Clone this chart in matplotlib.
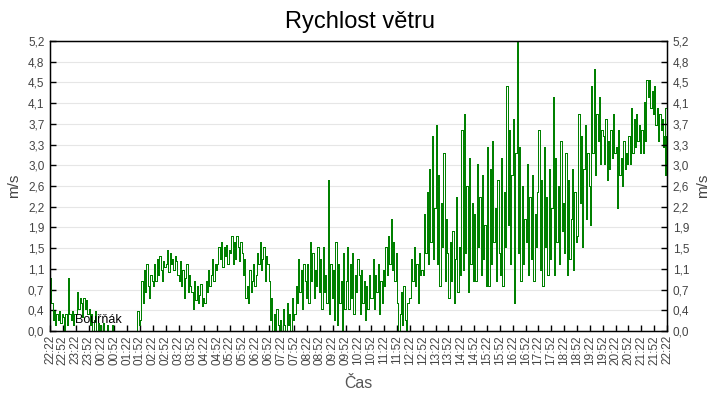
import numpy as np
import matplotlib
matplotlib.use("Agg")
import matplotlib.pyplot as plt

plt.rcParams['font.family'] = ['Liberation Sans', 'DejaVu Sans']

title = "Rychlost větru"
y_label = "m/s"
x_label = "Čas"
annotation = "Bouřňák"

# 3-minute samples of wind speed (m/s), starting 22:22
speed = [
    0.95, 0.5, 0.2, 0.35, 0.1, 0.3, 0.2, 0.35, 0.15, 0.3,
    0.25, 0.0, 0.3, 0.1, 0.95, 0.3, 0.2, 0.35, 0.1, 0.3,
    0.3, 0.7, 0.4, 0.6, 0.5, 0.25, 0.6, 0.4, 0.55, 0.3,
    0.4, 0.1, 0.3, 0.0, 0.2, 0.35, 0.0, 0.15, 0.0, 0.1,
    0.0, 0.15, 0.0, 0.0, 0.1, 0.0, 0.0, 0.0, 0.1, 0.0,
    0.0, 0.0, 0.0, 0.0, 0.0, 0.0, 0.0, 0.0, 0.0, 0.0,
    0.0, 0.0, 0.0, 0.0, 0.0, 0.0, 0.0, 0.0, 0.35, 0.1,
    0.2, 0.9, 0.5, 1.1, 0.7, 1.2, 0.8, 0.6, 1.0, 0.9,
    0.8, 1.2, 0.9, 1.3, 1.0, 1.35, 1.1, 0.9, 1.25, 1.15,
    1.2, 1.45, 1.05, 1.4, 1.2, 1.3, 1.1, 1.35, 1.25, 1.0,
    0.9, 1.25, 0.8, 1.1, 0.6, 0.95, 1.2, 0.7, 1.0, 0.8,
    0.7, 0.4, 0.9, 0.55, 0.8, 0.5, 0.65, 0.85, 0.45, 0.6,
    0.5, 0.9, 0.7, 1.1, 0.8, 1.0, 1.3, 0.9, 1.2, 1.1,
    1.2, 1.5, 1.3, 1.6, 1.15, 1.5, 1.35, 1.55, 1.2, 1.45,
    1.4, 1.7, 1.2, 1.6, 1.3, 1.7, 1.5, 1.25, 1.6, 1.4,
    1.0, 1.3, 0.6, 0.8, 0.5, 1.1, 0.7, 0.9, 1.2, 0.8,
    1.0, 1.4, 1.2, 1.6, 1.1, 1.3, 1.5, 0.9, 1.35, 1.2,
    0.9, 0.2, 0.6, 0.0, 0.3, 0.0, 0.4, 0.1, 0.0, 0.2,
    0.0, 0.4, 0.1, 0.0, 0.5, 0.1, 0.3, 0.0, 0.6, 0.2,
    0.3, 0.8, 0.5, 1.3, 0.7, 1.1, 0.4, 1.2, 0.9, 0.6,
    1.2, 0.5, 1.6, 0.9, 1.4, 0.6, 1.1, 0.8, 1.5, 0.7,
    1.3, 0.4, 1.5, 0.7, 1.0, 0.5, 2.7, 0.3, 1.2, 0.6,
    1.1, 0.2, 1.6, 0.1, 1.2, 0.5, 0.9, 0.0, 1.4, 0.4,
    0.9, 1.5, 0.4, 1.2, 0.6, 1.4, 0.3, 1.0, 0.7, 1.3,
    1.0, 0.3, 1.1, 0.5, 0.9, 0.2, 0.8, 0.4, 1.0, 0.6,
    0.6, 1.3, 0.4, 1.0, 0.7, 1.2, 0.3, 0.9, 0.5, 1.1,
    0.8, 1.5, 1.0, 1.7, 1.2, 2.0, 1.1, 1.6, 0.9, 1.4,
    0.5, 0.0, 0.3, 0.7, 0.1, 0.8, 0.2, 0.0, 0.5, 0.6,
    0.6, 1.3, 0.9, 1.5, 0.8, 1.2, 0.5, 1.4, 1.0, 1.1,
    1.0, 2.1, 1.4, 2.5, 1.2, 2.9, 1.6, 3.5, 1.3, 2.2,
    3.7, 1.2, 2.8, 0.8, 2.3, 1.5, 3.2, 0.9, 2.0, 1.4,
    0.6, 1.6, 0.9, 1.8, 0.5, 1.3, 2.4, 0.7, 1.5, 1.0,
    3.6, 1.1, 3.9, 1.4, 2.6, 0.7, 3.1, 1.2, 2.3, 0.9,
    2.1, 0.9, 3.0, 1.5, 2.4, 1.0, 2.8, 1.3, 1.9, 0.8,
    3.3, 0.8, 2.9, 1.2, 3.4, 1.6, 2.2, 0.9, 2.7, 1.4,
    1.0, 3.1, 0.8, 2.5, 1.5, 4.4, 1.9, 3.6, 1.2, 2.8,
    3.8, 0.5, 3.2, 5.2, 1.4, 3.3, 0.9, 2.6, 1.2, 2.0,
    1.6, 3.0, 1.0, 2.4, 1.3, 2.8, 0.9, 2.1, 1.5, 2.5,
    3.6, 1.1, 2.7, 0.8, 3.3, 1.5, 2.4, 1.0, 2.9, 1.3,
    2.2, 4.2, 1.0, 3.1, 1.6, 2.6, 1.2, 3.4, 1.8, 2.3,
    1.4, 3.2, 1.0, 2.7, 1.3, 2.0, 2.9, 1.1, 2.5, 1.6,
    1.7, 3.9, 2.3, 3.5, 1.5, 2.9, 3.7, 2.0, 3.2, 2.6,
    1.9, 4.4, 3.2, 4.7, 2.8, 3.9, 3.4, 4.2, 3.0, 3.6,
    3.5, 3.0, 3.8, 2.7, 3.4, 2.9, 3.6, 3.1, 3.9, 3.2,
    3.3, 2.2, 3.6, 2.8, 3.1, 2.6, 3.4, 2.9, 3.2, 3.0,
    3.5, 3.0, 4.0, 3.2, 3.8, 3.3, 3.9, 3.4, 3.7, 3.2,
    3.6, 3.2, 4.1, 3.4, 4.5, 4.2, 4.5, 4.0, 4.3, 3.9,
    4.4, 3.7, 4.0, 3.4, 3.9, 3.6, 3.8, 3.3, 3.5, 2.8,
    4.0,
]
sample_minutes = [3 * i for i in range(len(speed) - 1)] + [1436]

x_tick_labels = ["22:22", "22:52", "23:22", "23:52", "00:22", "00:52", "01:22", "01:52",
                 "02:22", "02:52", "03:22", "03:52", "04:22", "04:52", "05:22", "05:52",
                 "06:22", "06:52", "07:22", "07:52", "08:22", "08:52", "09:22", "09:52",
                 "10:22", "10:52", "11:22", "11:52", "12:22", "12:52", "13:22", "13:52",
                 "14:22", "14:52", "15:22", "15:52", "16:22", "16:52", "17:22", "17:52",
                 "18:22", "18:52", "19:22", "19:52", "20:22", "20:52", "21:22", "21:52",
                 "22:22"]
y_tick_labels = ["0,0", "0,4", "0,7", "1,1", "1,5", "1,9", "2,2", "2,6",
                 "3,0", "3,3", "3,7", "4,1", "4,5", "4,8", "5,2"]
y_max = 5.2

fig = plt.figure(figsize=(7.2, 4.0), dpi=100)
ax = fig.add_axes([50/720, 1-331/400, 617/720, 290/400])

x = np.array(sample_minutes, dtype=float)
y = np.array(speed)
x = np.append(x, 1440)
y = np.append(y, y[-1])
ax.plot(x, y, drawstyle='steps-post', color='#008000', lw=0.72, antialiased=False)

ax.set_xlim(0, 1440)
ax.set_ylim(0, y_max)
yt = np.linspace(0, y_max, len(y_tick_labels))
xt = np.arange(len(x_tick_labels)) * 30

ax.set_yticks(yt)
ax.set_yticklabels(y_tick_labels)
ax.set_xticks(xt)
ax.set_xticklabels(x_tick_labels, rotation=90)
ax.grid(axis='y', color='#e6e6e6', lw=0.8)
ax.set_axisbelow(True)
ax.tick_params(axis='both', direction='in', length=4, width=1, labelsize=8.5,
               labelcolor='#444444', pad=4)
ax.tick_params(axis='x', pad=3)
for s in ax.spines.values():
    s.set_color('black')
    s.set_linewidth(1)

ax2 = ax.twinx()
ax2.set_ylim(0, y_max)
ax2.set_yticks(yt)
ax2.set_yticklabels(y_tick_labels)
ax2.tick_params(axis='y', direction='in', length=4, width=1, labelsize=8.5,
                labelcolor='#444444', pad=4)

ax.set_ylabel(y_label, fontsize=11, color='#444444', labelpad=5)
ax2.set_ylabel(y_label, fontsize=11, color='#444444', labelpad=5)
ax.set_xlabel(x_label, fontsize=11.5, color='#555555', labelpad=8)
fig.text(0.5, 1-22/400, title, ha='center', va='center', fontsize=17, color='black')

ax.text(58, 0.2, annotation, fontsize=9, color='black', va='center', ha='left')

fig.savefig("out.png", dpi=100)
